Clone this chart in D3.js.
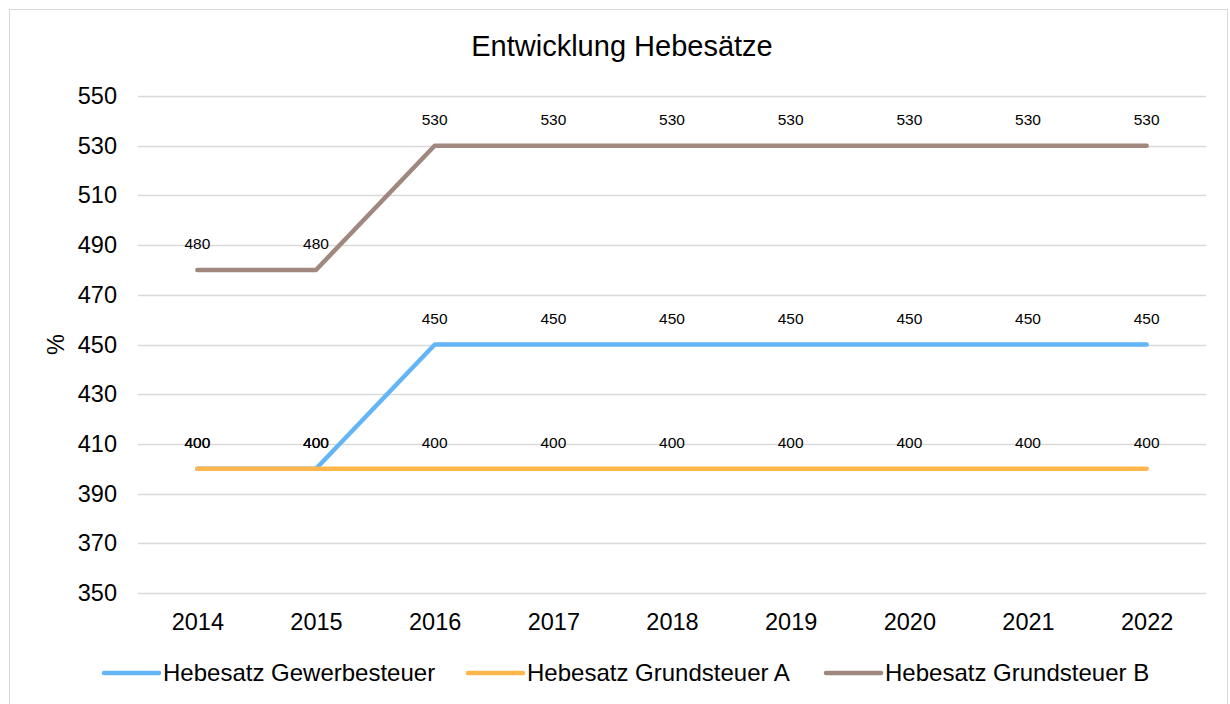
<!DOCTYPE html>
<html>
<head>
<meta charset="utf-8">
<script src="https://cdn.jsdelivr.net/npm/d3@7"></script>
<style>
  body { margin: 0; background: #fff; font-family: "Liberation Sans", Arial, sans-serif; }
</style>
</head>
<body>
<div id="chart"></div>
<script>
// chart data
var years = ["2014", "2015", "2016", "2017", "2018", "2019", "2020", "2021", "2022"];
var gewerbesteuer = [400, 400, 450, 450, 450, 450, 450, 450, 450];
var grundsteuerA = [400, 400, 400, 400, 400, 400, 400, 400, 400];
var grundsteuerB = [480, 480, 530, 530, 530, 530, 530, 530, 530];
var yTicks = [350, 370, 390, 410, 430, 450, 470, 490, 510, 530, 550];

var seriesList = [
  { name: "Hebesatz Gewerbesteuer", values: gewerbesteuer, color: "#64b5f6" },
  { name: "Hebesatz Grundsteuer A", values: grundsteuerA, color: "#ffb74d" },
  { name: "Hebesatz Grundsteuer B", values: grundsteuerB, color: "#a1887f" }
];

var svgWidth = 1230;
var svgHeight = 704;
var margin = { top: 96, right: 24, bottom: 111, left: 138 };
var width = svgWidth - margin.left - margin.right;
var height = svgHeight - margin.top - margin.bottom;

var svg = d3.select("#chart")
  .append("svg")
  .attr("width", svgWidth)
  .attr("height", svgHeight);

// outer frame
svg.append("rect")
  .attr("x", 9.5)
  .attr("y", 9.5)
  .attr("width", 1218)
  .attr("height", 720)
  .attr("fill", "#fff")
  .attr("stroke", "#d9d9d9");

svg.append("text")
  .attr("x", 622)
  .attr("y", 56)
  .attr("text-anchor", "middle")
  .attr("font-size", "29px")
  .attr("fill", "#000")
  .text("Entwicklung Hebesätze");

var chartGroup = svg.append("g")
  .attr("transform", `translate(${margin.left}, ${margin.top})`);

var xScale = d3.scalePoint()
  .domain(years)
  .range([0, width])
  .padding(0.5);

var yScale = d3.scaleLinear()
  .domain([350, 550])
  .range([height, 0]);

// gridlines
chartGroup.append("g")
  .selectAll("line")
  .data(yTicks)
  .enter()
  .append("line")
  .attr("x1", 0)
  .attr("x2", width)
  .attr("y1", d => Math.round(yScale(d)) + 0.5)
  .attr("y2", d => Math.round(yScale(d)) + 0.5)
  .attr("stroke", "#d9d9d9")
  .attr("stroke-width", 1.5);

// y axis
var leftAxis = d3.axisLeft(yScale).tickValues(yTicks).tickSize(0).tickPadding(21);
chartGroup.append("g")
  .call(leftAxis)
  .call(g => g.select(".domain").remove())
  .selectAll("text")
  .attr("font-family", "Liberation Sans, Arial, sans-serif")
  .attr("font-size", "23.5px")
  .attr("fill", "#000");

// x axis
var bottomAxis = d3.axisBottom(xScale).tickSize(0).tickPadding(20);
chartGroup.append("g")
  .attr("transform", `translate(0, ${height})`)
  .call(bottomAxis)
  .call(g => g.select(".domain").remove())
  .selectAll("text")
  .attr("font-family", "Liberation Sans, Arial, sans-serif")
  .attr("font-size", "23.5px")
  .attr("fill", "#000");

// y axis title
chartGroup.append("text")
  .attr("transform", "rotate(-90)")
  .attr("x", -height / 2)
  .attr("y", -74)
  .attr("text-anchor", "middle")
  .attr("font-size", "23.5px")
  .text("%");

var line = d3.line()
  .x((d, i) => xScale(years[i]))
  .y(d => yScale(d));

seriesList.forEach(function(s) {
  chartGroup.append("path")
    .datum(s.values)
    .attr("d", line)
    .attr("fill", "none")
    .attr("stroke", s.color)
    .attr("stroke-width", 4.5)
    .attr("stroke-linecap", "round")
    .attr("stroke-linejoin", "round");
});

// data labels
seriesList.forEach(function(s) {
  chartGroup.append("g")
    .selectAll("text")
    .data(s.values)
    .enter()
    .append("text")
    .attr("x", (d, i) => xScale(years[i]))
    .attr("y", d => yScale(d) - 21)
    .attr("text-anchor", "middle")
    .attr("font-size", "15.5px")
    .attr("fill", "#000")
    .text(d => d);
});

// legend
var legendX = [104, 468, 826];
var legend = svg.append("g")
  .attr("transform", "translate(0, 673)");

seriesList.forEach(function(s, i) {
  legend.append("line")
    .attr("x1", legendX[i])
    .attr("x2", legendX[i] + 55)
    .attr("y1", 0)
    .attr("y2", 0)
    .attr("stroke", s.color)
    .attr("stroke-width", 4.5)
    .attr("stroke-linecap", "round");
  legend.append("text")
    .attr("x", legendX[i] + 59)
    .attr("y", 8)
    .attr("font-size", "24px")
    .attr("fill", "#000")
    .text(s.name);
});
</script>
</body>
</html>
